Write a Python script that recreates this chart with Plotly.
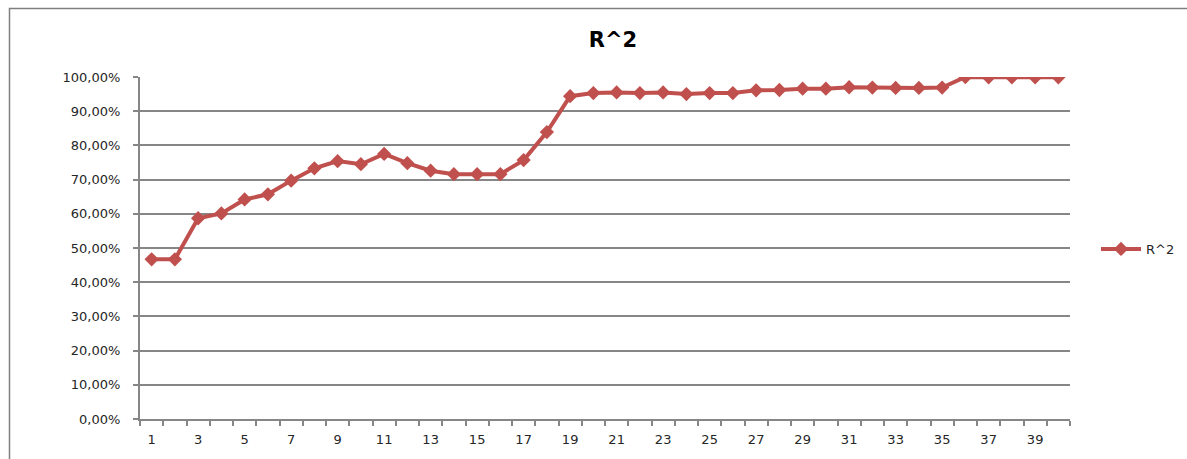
import plotly.graph_objects as go

# Observation index and coefficient of determination per step
steps = list(range(1, 41))
r_squared = [
    0.467, 0.467, 0.587, 0.601, 0.642, 0.657, 0.697, 0.733, 0.754, 0.745,
    0.775, 0.748, 0.726, 0.716, 0.716, 0.716, 0.757, 0.839, 0.944, 0.953,
    0.955, 0.953, 0.955, 0.950, 0.953, 0.953, 0.961, 0.962, 0.966, 0.966,
    0.970, 0.969, 0.968, 0.968, 0.969, 1.000, 0.999, 0.999, 0.999, 0.999,
]
odd_labels = [s for s in steps if s % 2 == 1]

RED = "#C0504D"
GRID = "#868686"
FONT = "DejaVu Sans"

fig = go.Figure(
    go.Scatter(
        x=steps,
        y=r_squared,
        mode="lines+markers",
        name="R^2",
        line=dict(color=RED, width=4),
        marker=dict(symbol="diamond", size=11, color=RED),
    )
)

L, R, T, B = 140, 117, 77, 40
W, H = 1187, 459
pw, ph = W - L - R, H - T - B

fig.update_layout(
    width=W,
    height=H,
    margin=dict(l=L, r=R, t=T, b=B, autoexpand=False),
    paper_bgcolor="white",
    plot_bgcolor="white",
    separators=",.",
    font=dict(family=FONT, size=13, color="#262626"),
    title=dict(
        text="<b>R^2</b>",
        x=(613 / W),
        xanchor="center",
        y=1 - 40 / H,
        yanchor="middle",
        font=dict(family=FONT, size=21, color="#000000"),
    ),
    legend=dict(
        x=(1096 - L) / pw,
        y=(H - B - 249) / ph,
        xanchor="left",
        yanchor="middle",
        itemwidth=40,
        font=dict(family=FONT, size=13, color="#262626"),
        bgcolor="rgba(0,0,0,0)",
    ),
    showlegend=True,
    xaxis=dict(
        range=[0.5, 40.5],
        tickmode="array",
        tickvals=odd_labels,
        ticktext=[str(v) for v in odd_labels],
        ticks="",
        showgrid=False,
        zeroline=False,
        showline=True,
        linecolor=GRID,
        linewidth=2,
        minor=dict(tick0=0.5, dtick=1, ticks="outside", ticklen=5,
                   tickcolor=GRID, tickwidth=2, showgrid=False),
        ticklabelstandoff=7,
        fixedrange=True,
    ),
    yaxis=dict(
        range=[0, 1],
        dtick=0.1,
        tickformat=".2%",
        ticks="outside",
        ticklen=5,
        tickcolor=GRID,
        tickwidth=2,
        showgrid=True,
        gridcolor=GRID,
        gridwidth=1.5,
        zeroline=False,
        showline=True,
        linecolor=GRID,
        linewidth=2,
        ticklabelstandoff=10,
        fixedrange=True,
    ),
    shapes=[
        dict(
            type="rect",
            xref="paper",
            yref="paper",
            x0=(9.5 - L) / pw,
            x1=(1300 - L) / pw,
            y0=(H - B - 560) / ph,
            y1=(H - B - 8.5) / ph,
            line=dict(color="#7F7F7F", width=1.5),
            fillcolor="rgba(0,0,0,0)",
            layer="below",
        )
    ],
)

fig.write_html("out.html")
